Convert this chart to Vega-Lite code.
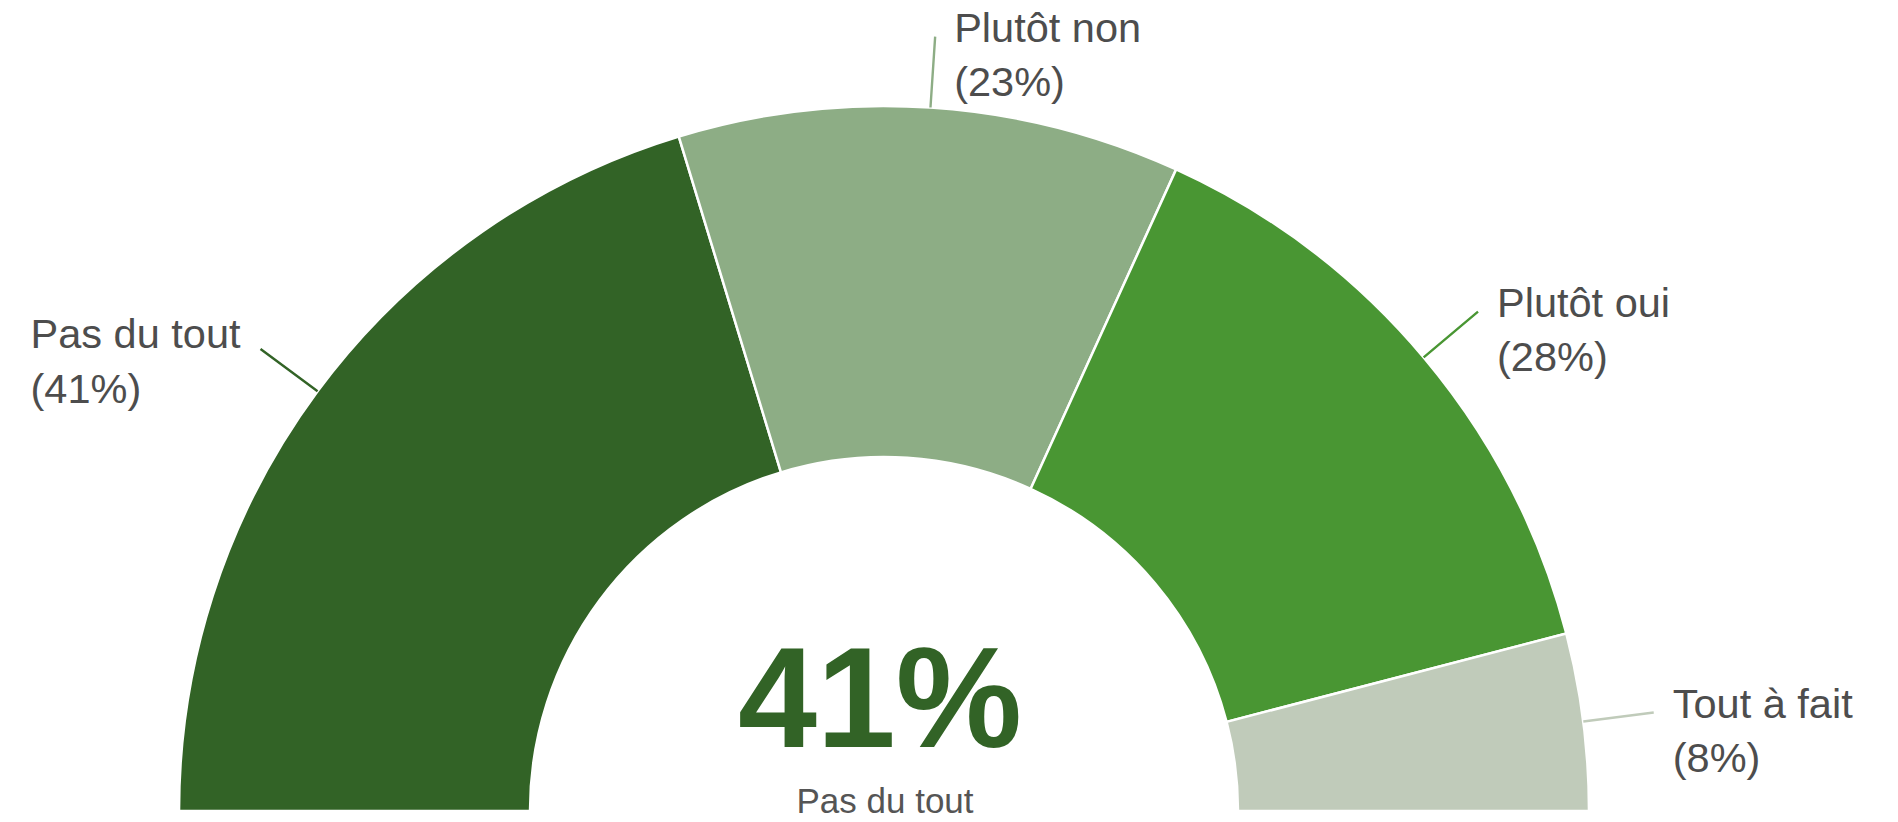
{
  "$schema": "https://vega.github.io/schema/vega-lite/v6.json",
  "width": 1768,
  "height": 811,
  "autosize": {"type": "none"},
  "padding": {"left": 0, "top": 0, "right": 130, "bottom": 11},
  "background": "white",
  "config": {"view": {"stroke": null}, "text": {"font": "Liberation Sans"}},
  "data": {
    "values": [
      {"answer": "Pas du tout", "share": 0.406, "pct": "(41%)"},
      {"answer": "Plutôt non", "share": 0.23, "pct": "(23%)"},
      {"answer": "Plutôt oui", "share": 0.283, "pct": "(28%)"},
      {"answer": "Tout à fait", "share": 0.081, "pct": "(8%)"}
    ]
  },
  "layer": [
    {
      "mark": {"type": "arc", "y": "height", "radius": 705, "radius2": 354, "stroke": "white", "strokeWidth": 2.5},
      "encoding": {
        "theta": {"field": "share", "type": "quantitative", "stack": true, "scale": {"domain": [0, 1], "range": [-1.5707963, 1.5707963]}},
        "order": {"field": "answer", "type": "ordinal"},
        "color": {"field": "answer", "type": "nominal", "legend": null, "scale": {"domain": ["Pas du tout", "Plutôt non", "Plutôt oui", "Tout à fait"], "range": ["#326326", "#8DAD85", "#499633", "#C0CBBA"]}}
      }
    },
    {
      "mark": {"type": "arc", "y": "height", "radius": 776, "radius2": 705, "filled": false, "padAngle": 3, "strokeWidth": 2.4},
      "encoding": {
        "theta": {"field": "share", "type": "quantitative", "stack": true},
        "order": {"field": "answer", "type": "ordinal"},
        "color": {"field": "answer", "type": "nominal", "legend": null}
      }
    },
    {
      "mark": {"type": "text", "y": "height", "radius": 776, "align": "left", "baseline": "alphabetic", "dx": 19, "dy": 5, "fontSize": 41.5},
      "encoding": {
        "theta": {"field": "share", "type": "quantitative", "stack": true},
        "order": {"field": "answer", "type": "ordinal"},
        "detail": {"field": "answer", "type": "nominal"},
        "text": {"condition": {"test": "datum.answer === 'Pas du tout'", "value": ""}, "field": "answer", "type": "nominal"},
        "color": {"value": "#4d4d4d"}
      }
    },
    {
      "mark": {"type": "text", "y": "height", "radius": 776, "align": "left", "baseline": "alphabetic", "dx": 19, "dy": 59, "fontSize": 41.5},
      "encoding": {
        "theta": {"field": "share", "type": "quantitative", "stack": true},
        "order": {"field": "answer", "type": "ordinal"},
        "detail": {"field": "answer", "type": "nominal"},
        "text": {"condition": {"test": "datum.answer === 'Pas du tout'", "value": ""}, "field": "pct", "type": "nominal"},
        "color": {"value": "#4d4d4d"}
      }
    },
    {
      "mark": {"type": "text", "y": "height", "radius": 776, "align": "right", "baseline": "alphabetic", "dx": -20, "dy": -1, "fontSize": 41.5},
      "encoding": {
        "theta": {"field": "share", "type": "quantitative", "stack": true},
        "order": {"field": "answer", "type": "ordinal"},
        "detail": {"field": "answer", "type": "nominal"},
        "text": {"condition": {"test": "datum.answer !== 'Pas du tout'", "value": ""}, "field": "answer", "type": "nominal"},
        "color": {"value": "#4d4d4d"}
      }
    },
    {
      "mark": {"type": "text", "y": "height", "radius": 776, "align": "left", "baseline": "alphabetic", "dx": -230, "dy": 54, "fontSize": 41.5},
      "encoding": {
        "theta": {"field": "share", "type": "quantitative", "stack": true},
        "order": {"field": "answer", "type": "ordinal"},
        "detail": {"field": "answer", "type": "nominal"},
        "text": {"condition": {"test": "datum.answer !== 'Pas du tout'", "value": ""}, "field": "pct", "type": "nominal"},
        "color": {"value": "#4d4d4d"}
      }
    },
    {
      "transform": [
        {"window": [{"op": "row_number", "as": "rk"}], "sort": [{"field": "share", "order": "descending"}]},
        {"filter": "datum.rk === 1"}
      ],
      "layer": [
        {
          "mark": {"type": "text", "x": {"expr": "width / 2"}, "y": "height", "align": "center", "baseline": "alphabetic", "dx": -4, "dy": -64, "fontSize": 142, "fontWeight": "bold"},
          "encoding": {
            "text": {"field": "share", "type": "quantitative", "format": ".0%"},
            "color": {"field": "answer", "type": "nominal", "legend": null}
          }
        },
        {
          "mark": {"type": "text", "x": {"expr": "width / 2"}, "y": "height", "align": "center", "baseline": "alphabetic", "dx": 1, "dy": 2, "fontSize": 35, "color": "#555555"},
          "encoding": {
            "text": {"field": "answer", "type": "nominal"}
          }
        }
      ]
    }
  ]
}
